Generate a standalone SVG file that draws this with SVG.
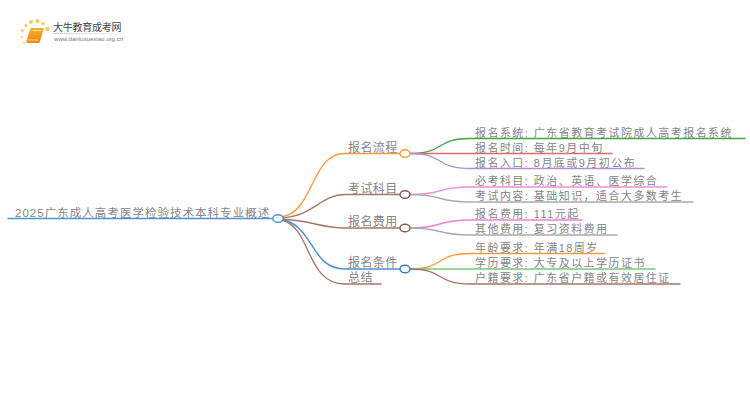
<svg xmlns="http://www.w3.org/2000/svg" width="750" height="410" viewBox="0 0 750 410">
<style>
text{font-family:"Liberation Sans","Noto Sans CJK SC",sans-serif;font-size:11.5px;fill:#858585}
.l{font-size:11px;letter-spacing:1.45px}
.b{font-size:12px;letter-spacing:.4px}
.c path,.c line{fill:none;stroke-width:1.4;stroke-linecap:round}
ellipse{fill:#fff;stroke-width:1.4}
</style>
<defs><linearGradient id="fade"><stop offset="0" stop-color="#ccc"/><stop offset="1" stop-color="#ccc" stop-opacity="0"/></linearGradient>
<linearGradient id="bk" x1="0" y1="0" x2="0" y2="1"><stop offset="0" stop-color="#fbb034"/><stop offset="1" stop-color="#ee8410"/></linearGradient></defs>
<g id="logo">
<g fill="#fbc85a"><circle cx="31" cy="22" r="2"/><circle cx="37.500" cy="21" r="2"/><circle cx="26" cy="25.500" r="1.600"/><circle cx="43" cy="23.500" r="1.800"/><circle cx="47.500" cy="29" r="2.200"/><circle cx="22.500" cy="30.500" r="1.300"/><circle cx="22" cy="37" r="1.100"/><circle cx="24" cy="42.500" r="1"/></g>
<path d="M30.500 28H44L40 41.500Q39.500 43 38 43H28Q26 43 26.500 41Z" fill="url(#bk)"/><path d="M32.500 30.500H41.500M28 40H38" stroke="#fde0a0" stroke-width="1"/>
<text x="53" y="31" style="font-size:10px;fill:#444;letter-spacing:-.25px">大牛教育成考网</text>
<text x="54" y="41" style="font-size:6.100px;fill:#777">www.daniuxuexiao.org.cn</text>
<rect x="53" y="33" width="80" height="1" fill="url(#fade)"/>
</g>
<g id="connectors" class="c">
<line x1="8" y1="218.500" x2="273" y2="218.500" stroke="#4d94c9"/>
<path d="M281 217C315 212 310 153.500 345 153.500H400" stroke="#ff9933"/>
<path d="M281 218C315 216 320 194.500 345 194.500H400" stroke="#a5776a"/>
<path d="M281 219C315 221 320 228 345 228H400" stroke="#a5776a"/>
<path d="M281 219C315 226 310 269 345 269H400" stroke="#4a90d0"/>
<path d="M281 220C312 226 305 284 345 284H381" stroke="#a5776a"/>
<path d="M410 153.500C445 153.500 435 138.500 470 138.500H745" stroke="#3fa83f"/>
<path d="M410 153.500H612" stroke="#e06a6a"/>
<path d="M410 153.500C445 153.500 435 168.500 470 168.500H644" stroke="#b08fd8"/>
<path d="M410 194.500C445 194.500 435 187 470 187H667" stroke="#ee90d8"/>
<path d="M410 194.500C445 194.500 435 202 470 202H693" stroke="#aaaaaa"/>
<path d="M410 228C445 228 435 220 470 220H582" stroke="#ee80d8"/>
<path d="M410 228C445 228 435 235 470 235H617" stroke="#aaaaaa"/>
<path d="M410 269C445 269 435 253.500 470 253.500H604" stroke="#ff9933"/>
<path d="M410 269H655" stroke="#7cc87c"/>
<path d="M410 269C445 269 435 284 470 284H680" stroke="#a5776a"/>
</g>
<g id="root"><text x="15" y="216.500" style="font-size:11.500px;letter-spacing:1.030px">2025广东成人高考医学检验技术本科专业概述</text><ellipse cx="278" cy="218.500" rx="5.200" ry="3.800" stroke="#4d94c9"/></g>
<g id="b1"><text class="b" x="348" y="151.500">报名流程</text><ellipse cx="405" cy="153.500" rx="5" ry="3.800" stroke="#ff9933"/></g>
<g id="b2"><text class="b" x="348" y="192.500">考试科目</text><ellipse cx="405" cy="194.500" rx="5" ry="3.800" stroke="#8a5a50"/></g>
<g id="b3"><text class="b" x="348" y="226">报名费用</text><ellipse cx="405" cy="228" rx="5" ry="3.800" stroke="#8a5a50"/></g>
<g id="b4"><text class="b" x="348" y="267">报名条件</text><ellipse cx="405" cy="269" rx="5" ry="3.800" stroke="#2f80c0"/></g>
<g id="b5"><text class="b" x="348" y="282">总结</text></g>
<g id="l1"><text class="l" x="475" y="136.500">报名系统: 广东省教育考试院成人高考报名系统</text></g>
<g id="l2"><text class="l" x="475" y="151.500">报名时间: 每年9月中旬</text></g>
<g id="l3"><text class="l" x="475" y="166.500">报名入口: 8月底或9月初公布</text></g>
<g id="l4"><text class="l" x="475" y="185">必考科目: 政治、英语、医学综合</text></g>
<g id="l5"><text class="l" x="475" y="200">考试内容: 基础知识，适合大多数考生</text></g>
<g id="l6"><text class="l" x="475" y="218">报名费用: 111元起</text></g>
<g id="l7"><text class="l" x="475" y="233">其他费用: 复习资料费用</text></g>
<g id="l8"><text class="l" x="475" y="251.500">年龄要求: 年满18周岁</text></g>
<g id="l9"><text class="l" x="475" y="266.500">学历要求: 大专及以上学历证书</text></g>
<g id="l10"><text class="l" x="475" y="282">户籍要求: 广东省户籍或有效居住证</text></g>
</svg>
